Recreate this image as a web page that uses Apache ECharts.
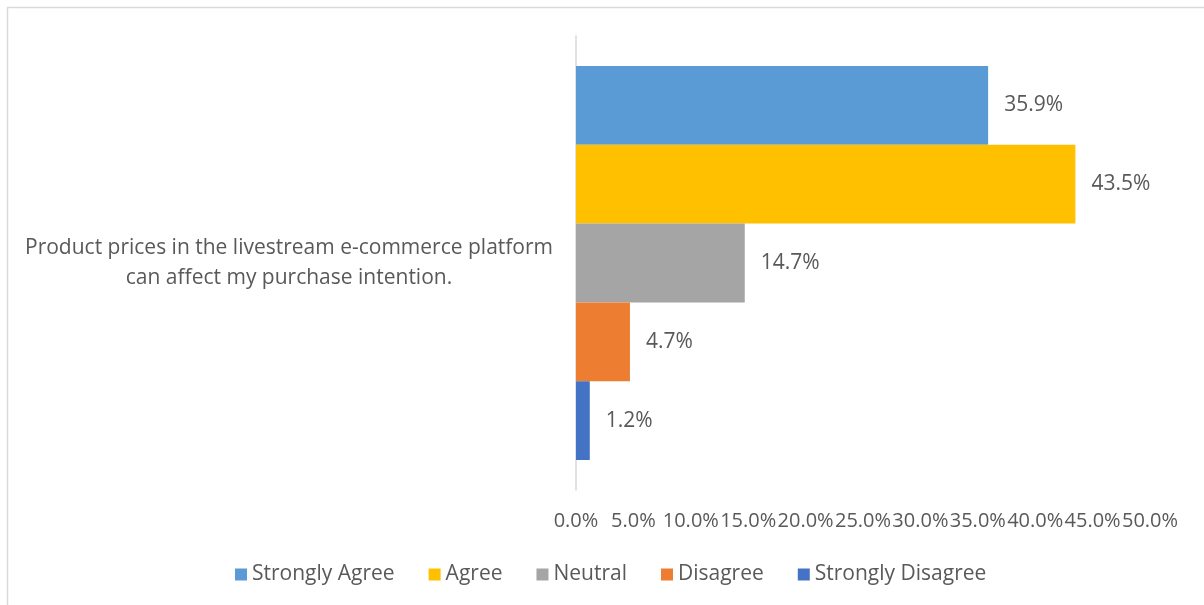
<!DOCTYPE html>
<html>
<head>
<meta charset="utf-8">
<script src="https://cdn.jsdelivr.net/npm/echarts@6/dist/echarts.min.js"></script>
<style>
  html, body { margin: 0; padding: 0; background: #ffffff; }
  #chart { width: 1204px; height: 605px; }
</style>
</head>
<body>
<div id="chart"></div>
<script>
// Survey item shown on the category axis
const categories = ['Product prices in the livestream e-commerce platform can affect my purchase intention.'];

// Response shares (%) per answer option
const seriesNames = ['Strongly Agree', 'Agree', 'Neutral', 'Disagree', 'Strongly Disagree'];
const seriesValues = [
  [35.9],
  [43.5],
  [14.7],
  [4.7],
  [1.2]
];
const seriesColors = ['#5B9BD5', '#FFC000', '#A5A5A5', '#ED7D31', '#4472C4'];

// Value axis range and step (%)
const axisMin = 0;
const axisMax = 50;
const axisStep = 5;

const textColor = '#595959';
const fontFamily = '"Open Sans", "Liberation Sans", sans-serif';
const fontSize = 21;

const chart = echarts.init(document.getElementById('chart'));

const series = seriesNames.map((name, i) => ({
  name: name,
  type: 'bar',
  data: seriesValues[i],
  barGap: '0%',
  barCategoryGap: '13.2%',
  itemStyle: { color: seriesColors[i] },
  label: {
    show: true,
    position: 'right',
    distance: 16,
    color: textColor,
    fontFamily: fontFamily,
    fontSize: fontSize,
    formatter: p => p.value.toFixed(1) + '%'
  }
}));

chart.setOption({
  animation: false,
  backgroundColor: '#ffffff',
  textStyle: { fontFamily: fontFamily },
  graphic: [{
    type: 'rect',
    shape: { x: 7.5, y: 7.5, width: 1400, height: 800 },
    style: { fill: 'none', stroke: '#d9d9d9', lineWidth: 1.5 },
    silent: true
  }],
  grid: { left: 576, right: 54, top: 36, bottom: 115, containLabel: false },
  legend: {
    data: seriesNames,
    top: 559,
    left: 230,
    icon: 'rect',
    itemWidth: 12,
    itemHeight: 12,
    itemGap: 34,
    textStyle: { color: textColor, fontSize: fontSize, fontFamily: fontFamily }
  },
  xAxis: {
    type: 'value',
    min: axisMin,
    max: axisMax,
    interval: axisStep,
    axisLine: { show: false },
    axisTick: { show: false },
    splitLine: { show: false },
    axisLabel: {
      margin: 21,
      color: textColor,
      fontSize: 20,
      fontFamily: fontFamily,
      hideOverlap: false,
      showMinLabel: true,
      showMaxLabel: true,
      formatter: v => v.toFixed(1) + '%'
    }
  },
  yAxis: {
    type: 'category',
    data: categories,
    inverse: true,
    axisLine: { show: true, lineStyle: { color: '#d9d9d9', width: 1.5 } },
    axisTick: { show: false },
    axisLabel: {
      margin: 287,
      align: 'center',
      color: textColor,
      fontSize: fontSize,
      lineHeight: 30,
      fontFamily: fontFamily,
      formatter: v => v.replace(' can ', '\ncan ')
    }
  },
  series: series
});
</script>
</body>
</html>
